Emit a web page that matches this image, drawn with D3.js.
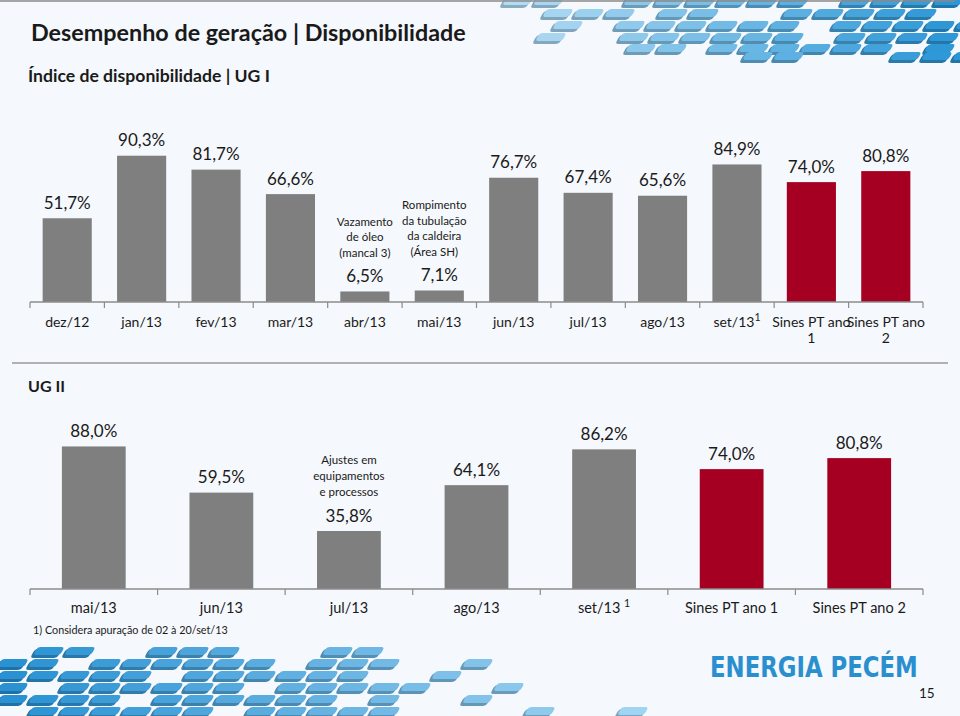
<!DOCTYPE html>
<html><head><meta charset="utf-8">
<script src="https://cdn.jsdelivr.net/npm/d3@7"></script>
<style>html,body{margin:0;padding:0;background:#F5F8FC;} svg{display:block}</style>
</head><body>
<svg id="c" width="960" height="716"></svg>
<script>
// ---------- data ----------
const ug1Categories = ["dez/12","jan/13","fev/13","mar/13","abr/13","mai/13","jun/13","jul/13","ago/13","set/13","Sines PT ano 1","Sines PT ano 2"];
const ug1Values = [51.7, 90.3, 81.7, 66.6, 6.5, 7.1, 76.7, 67.4, 65.6, 84.9, 74.0, 80.8];
const ug1TickLabels = [["dez/12"],["jan/13"],["fev/13"],["mar/13"],["abr/13"],["mai/13"],["jun/13"],["jul/13"],["ago/13"],["set/13^1"],["Sines PT ano","1"],["Sines PT ano","2"]];
const ug1Notes = {"abr/13": ["Vazamento","de óleo","(mancal 3)"], "mai/13": ["Rompimento","da tubulação","da caldeira","(Área SH)"]};

const ug2Categories = ["mai/13","jun/13","jul/13","ago/13","set/13","Sines PT ano 1","Sines PT ano 2"];
const ug2Values = [88.0, 59.5, 35.8, 64.1, 86.2, 74.0, 80.8];
const ug2TickLabels = [["mai/13"],["jun/13"],["jul/13"],["ago/13"],["set/13 ^1"],["Sines PT ano 1"],["Sines PT ano 2"]];
const ug2Notes = {"jul/13": ["Ajustes em","equipamentos","e processos"]};

const referenceCategories = ["Sines PT ano 1","Sines PT ano 2"];

// ---------- setup ----------
const svg = d3.select("#c");
const FONT = "Lato, 'Open Sans', sans-serif";
const GRAY = "#7F7F7F", RED = "#A50021", TXT = "#1a1a1a";
const loc = d3.formatLocale({decimal: ",", thousands: ".", grouping: [3], currency: ["R$", ""]});
const fmt = v => loc.format(".1f")(v) + "%";

svg.append("rect").attr("width",960).attr("height",716).attr("fill","#F5F8FC");

// decorative tiles
function drawTiles(rows, c0, c1, xa, xb, sparse) {
  const g = svg.append("g");
  const col = d3.scaleLinear().domain([xa, xb]).range([c0, c1]).interpolate(d3.interpolateRgb).clamp(true);
  rows.forEach((row, r) => {
    for (let x = row[1], i = 0; x <= row[2]; x += 31, i++) {
      if ((i * 3 + r * 5) % 7 === 0) continue;
      if (sparse && sparse(x, i, r)) continue;
      const t = g.append("g").attr("transform", `translate(${x},${row[0]}) skewX(-28)`);
      const c = d3.color(col(x));
      t.append("rect").attr("x",0).attr("y",2).attr("width",27).attr("height",9).attr("rx",3).attr("fill", c.darker(0.7));
      t.append("rect").attr("x",1.5).attr("y",0).attr("width",27).attr("height",8).attr("rx",3).attr("fill", c);
    }
  });
}
drawTiles([[-3,595,960],[-3,505,540],[9,545,610],[9,660,700],[9,785,960],[21,555,960],[33,538,560],[33,590,960],[44,628,680],[44,710,940],[52,745,830],[52,893,955]],
  "#b4dcf4", "#2a96d6", 500, 940);
drawTiles([[647,5,75],[647,150,245],[647,325,375],[659,0,480],[671,0,520],[683,0,560],[695,0,640],[707,0,660]],
  "#2a92d3", "#a9d8f4", 0, 660, (x, i, r) => x > 380 && (i + r) % 3 !== 0);

// frame lines
svg.append("line").attr("x1",0).attr("x2",955).attr("y1",1).attr("y2",1).attr("stroke","#8a8a8a").attr("stroke-width",1.5);
svg.append("line").attr("x1",12).attr("x2",948).attr("y1",363).attr("y2",363).attr("stroke","#9a9a9a").attr("stroke-width",1.5);

// fitted texts
function fitText(txt, x, y, width, weight, size0, color) {
  const t = svg.append("text").attr("x", x).attr("y", y).attr("font-family", FONT)
    .attr("font-weight", weight).attr("font-size", size0).attr("fill", color || TXT).text(txt);
  const w = t.node().getComputedTextLength();
  t.attr("font-size", size0 * width / w);
  return t;
}
fitText("Desempenho de geração | Disponibilidade", 31, 41, 435, "bold", 20);
fitText("Índice de disponibilidade | UG I", 28, 82, 242, "bold", 16);
fitText("UG II", 28, 392, 37, "bold", 16);
fitText("1) Considera apuração de 02 à 20/set/13", 33, 634, 195, "normal", 11);

// logo + page number
const logo = svg.append("text").attr("x",0).attr("y",0).attr("font-family","'DejaVu Sans', sans-serif").attr("font-weight","bold")
  .attr("font-size",28).attr("fill","#2a8fcf").text("ENERGIA PECÉM");
const lw = logo.node().getComputedTextLength();
logo.attr("transform", `translate(710,677) scale(${208 / lw},1)`);
svg.append("text").attr("x",919).attr("y",698).attr("font-family",FONT).attr("font-size",13.5).attr("fill",TXT).text("15");

// ---------- chart builder ----------
function drawChart(cats, values, tickLabels, notes, opt) {
  const g = svg.append("g");
  const x = d3.scaleBand().domain(cats).range([30, 923]).paddingInner(opt.pad).paddingOuter(opt.pad / 2);
  const y = d3.scaleLinear().domain([0, 100]).range([opt.base, opt.base - 162]);
  const data = cats.map((c, i) => ({c, v: values[i], lab: tickLabels[i]}));

  g.selectAll("rect.bar").data(data).join("rect").attr("class","bar")
    .attr("x", d => x(d.c)).attr("width", x.bandwidth())
    .attr("y", d => y(d.v)).attr("height", d => y(0) - y(d.v))
    .attr("fill", d => referenceCategories.includes(d.c) ? RED : GRAY);

  // axis line + boundary ticks
  const axis = g.append("g").attr("transform", `translate(0,${opt.base})`)
    .call(d3.axisBottom(x).tickSize(0).tickFormat(""));
  axis.select(".domain").attr("stroke","#8c8c8c").attr("stroke-width",1.3).attr("d", `M30,0H923`);
  const bounds = cats.map(c => x(c) - x.step() * x.paddingInner() / 2).concat([923]);
  axis.selectAll("line.bt").data(bounds).join("line").attr("class","bt")
    .attr("x1", d => d).attr("x2", d => d).attr("y1", 0).attr("y2", 6)
    .attr("stroke","#8c8c8c").attr("stroke-width",1.2);

  // tick labels
  data.forEach(d => {
    const cx = x(d.c) + x.bandwidth() / 2;
    d.lab.forEach((line, li) => {
      const t = g.append("text").attr("x", cx).attr("y", opt.tickY + li * 16).attr("text-anchor","middle")
        .attr("font-family", FONT).attr("font-size", opt.tickSize).attr("fill", TXT);
      const parts = line.split("^");
      t.append("tspan").text(parts[0]);
      if (parts[1]) t.append("tspan").attr("dy", -6).attr("font-size", 10.5).text(parts[1]);
    });
  });

  // value labels
  g.selectAll("text.val").data(data).join("text").attr("class","val")
    .attr("x", d => x(d.c) + x.bandwidth() / 2).attr("y", d => y(d.v) - 9.5)
    .attr("text-anchor","middle").attr("font-family", FONT).attr("font-size", 17).attr("fill", TXT)
    .text(d => fmt(d.v));

  // annotations
  Object.keys(notes).forEach(c => {
    const lines = notes[c];
    const cx = x(c) + x.bandwidth() / 2 + (opt.noteShift[c] || 0);
    const lastY = y(values[cats.indexOf(c)]) - 9.5 - opt.noteGap;
    lines.forEach((ln, i) => {
      g.append("text").attr("x", cx).attr("y", lastY - (lines.length - 1 - i) * opt.noteLH)
        .attr("text-anchor","middle").attr("font-family", FONT).attr("font-size", 11.5).attr("fill", TXT).text(ln);
    });
  });
}

drawChart(ug1Categories, ug1Values, ug1TickLabels, ug1Notes,
  {pad: 0.34, base: 302, tickY: 327, tickSize: 14, noteGap: 25, noteLH: 15.5, noteShift: {"mai/13": -5}});
drawChart(ug2Categories, ug2Values, ug2TickLabels, ug2Notes,
  {pad: 0.5, base: 589, tickY: 613, tickSize: 14.5, noteGap: 26, noteLH: 16, noteShift: {}});
</script>
</body></html>
